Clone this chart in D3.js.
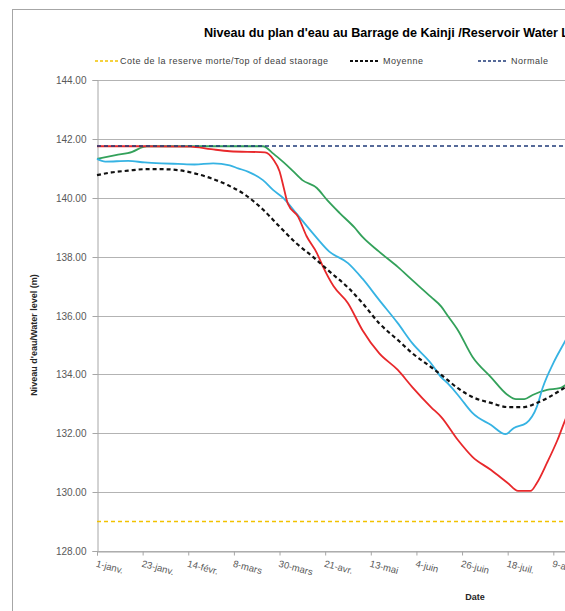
<!DOCTYPE html>
<html>
<head>
<meta charset="utf-8">
<script src="https://cdn.jsdelivr.net/npm/d3@7"></script>
<style>
  html, body { margin: 0; padding: 0; background: #fff; overflow: hidden; }
  svg { display: block; font-family: "Liberation Sans", Arial, sans-serif; }
</style>
</head>
<body>
<svg id="chart" width="565" height="611"></svg>
<script>
// ---- Data (day of year, 0 = 1 janv.) ----
const titleText = "Niveau du plan d'eau au Barrage de Kainji /Reservoir Water Level at Kainji Dam";
const yTicks = [128, 130, 132, 134, 136, 138, 140, 142, 144];
const xTickDays = [0, 22, 44, 66, 88, 110, 132, 154, 176, 198, 220, 242, 264, 286, 308, 330, 352];
const xTickLabels = ["1-janv.", "23-janv.", "14-févr.", "8-mars", "30-mars", "21-avr.", "13-mai", "4-juin", "26-juin", "18-juil.", "9-août", "31-août", "22-sept.", "14-oct.", "5-nov.", "27-nov.", "19-déc."];

const deadStorageLevel = 129.0;
const normalLevel = 141.76;

const moyenneDays   = [0, 7, 15, 23, 31, 39, 47, 55, 63, 71, 80, 88, 96, 104, 112, 121, 128, 136, 145, 152, 161, 166, 169, 174, 181, 190, 198, 206, 212, 218, 226, 232];
const moyenneLevels = [140.77, 140.86, 140.92, 140.97, 140.97, 140.94, 140.83, 140.66, 140.43, 140.12, 139.6, 139.02, 138.46, 138.0, 137.5, 136.95, 136.42, 135.74, 135.17, 134.72, 134.25, 133.98, 133.81, 133.53, 133.23, 133.03, 132.89, 132.89, 133.03, 133.23, 133.57, 133.8];

const redDays   = [0, 20, 45, 55, 64, 81, 85, 88, 90, 92, 97, 101, 106, 109, 114, 121, 128, 136, 145, 152, 161, 166, 174, 181, 190, 198, 203, 209, 212, 217, 222, 226, 232];
const redLevels = [141.75, 141.75, 141.74, 141.65, 141.58, 141.54, 141.3, 140.9, 140.35, 139.8, 139.35, 138.7, 138.12, 137.65, 137.0, 136.42, 135.5, 134.72, 134.15, 133.57, 132.89, 132.55, 131.77, 131.2, 130.75, 130.31, 130.04, 130.04, 130.3, 131.0, 131.77, 132.5, 133.4];

const greenDays   = [0, 9, 17, 22, 24, 80, 85, 90, 94, 99, 106, 111, 117, 124, 128, 136, 145, 152, 161, 166, 169, 174, 181, 190, 198, 202, 206, 210, 217, 223, 226, 232];
const greenLevels = [141.32, 141.45, 141.56, 141.72, 141.75, 141.75, 141.5, 141.2, 140.94, 140.6, 140.33, 139.92, 139.48, 139.0, 138.67, 138.17, 137.65, 137.2, 136.63, 136.3, 136.0, 135.5, 134.6, 133.9, 133.3, 133.16, 133.16, 133.3, 133.47, 133.53, 133.64, 133.9];

const cyanDays   = [0, 4, 15, 23, 31, 39, 47, 56, 64, 68, 73, 80, 85, 90, 96, 104, 112, 121, 128, 136, 145, 152, 161, 166, 169, 174, 177, 181, 190, 197, 201, 207, 212, 215, 220, 226, 232];
const cyanLevels = [141.32, 141.23, 141.25, 141.2, 141.17, 141.15, 141.13, 141.17, 141.1, 141.0, 140.88, 140.6, 140.26, 139.98, 139.48, 138.8, 138.17, 137.78, 137.25, 136.53, 135.74, 135.06, 134.38, 133.9, 133.7, 133.3, 133.03, 132.69, 132.28, 131.97, 132.18, 132.35, 132.89, 133.57, 134.38, 135.17, 136.0];

const legendLabels = ["Cote de la reserve morte/Top of dead staorage", "Moyenne", "Normale"];

// ---- Layout ----
const svg = d3.select("#chart");
const plot = { left: 97, right: 852, top: 80, bottom: 551 };

const x = d3.scaleLinear().domain([0, 364]).range([plot.left, plot.right]);
const y = d3.scaleLinear().domain([128, 144]).range([plot.bottom, plot.top]);

// outer chart border
svg.append("rect").attr("x", 12.5).attr("y", 9.5).attr("width", 900).attr("height", 700)
  .attr("fill", "#fff").attr("stroke", "#a6a6a6").attr("stroke-width", 1);

// gridlines
svg.append("g").selectAll("line").data(yTicks).join("line")
  .attr("x1", plot.left).attr("x2", plot.right)
  .attr("y1", d => Math.round(y(d)) + 0.5).attr("y2", d => Math.round(y(d)) + 0.5)
  .attr("stroke", "#b3b3b3").attr("stroke-width", 1);

// y axis
const yAxis = svg.append("g").attr("transform", `translate(${plot.left + 0.5},0)`)
  .call(d3.axisLeft(y).tickValues(yTicks).tickFormat(d3.format(".2f")).tickSize(5).tickPadding(6));
yAxis.select(".domain").attr("stroke", "#a6a6a6");
yAxis.selectAll(".tick line").attr("stroke", "#a6a6a6");
yAxis.selectAll(".tick text").attr("fill", "#595959").attr("font-size", "10px")
  .attr("font-family", "'Liberation Sans', Arial, sans-serif");
yAxis.selectAll(".tick").attr("transform", d => `translate(0,${Math.round(y(d)) + 0.5})`);

// x axis
const xAxis = svg.append("g").attr("transform", `translate(0,${Math.round(y(128)) + 0.5})`)
  .call(d3.axisBottom(x).tickValues(xTickDays).tickFormat((d, i) => xTickLabels[i]).tickSize(4));
xAxis.select(".domain").attr("stroke", "#a6a6a6");
xAxis.selectAll(".tick line").attr("stroke", "#a6a6a6");
xAxis.selectAll(".tick text")
  .attr("fill", "#595959").attr("font-size", "9.5px")
  .attr("font-family", "'Liberation Sans', Arial, sans-serif")
  .attr("text-anchor", "start").attr("dy", null)
  .attr("x", 2).attr("y", 15)
  .attr("transform", "rotate(15)");

// series
const line = d3.line().x(d => x(d[0])).y(d => y(d[1])).curve(d3.curveMonotoneX);
const zipS = (ds, vs) => ds.map((d, i) => [d, vs[i]]);

// dead storage
svg.append("line").attr("x1", plot.left).attr("x2", plot.right)
  .attr("y1", y(deadStorageLevel)).attr("y2", y(deadStorageLevel))
  .attr("stroke", "#f2c200").attr("stroke-width", 1.6).attr("stroke-dasharray", "4,3");

const solid = [
  { d: greenDays, v: greenLevels, c: "#33a15a" },
  { d: cyanDays, v: cyanLevels, c: "#36b3e3" },
  { d: redDays, v: redLevels, c: "#e8282b" }
];
solid.forEach(s => {
  svg.append("path").datum(zipS(s.d, s.v)).attr("d", line)
    .attr("fill", "none").attr("stroke", s.c).attr("stroke-width", 1.8)
    .attr("stroke-linejoin", "round");
});

// moyenne
svg.append("path").datum(zipS(moyenneDays, moyenneLevels)).attr("d", line)
  .attr("fill", "none").attr("stroke", "#111").attr("stroke-width", 2.2)
  .attr("stroke-dasharray", "4,3");

// normale
svg.append("line").attr("x1", plot.left).attr("x2", plot.right)
  .attr("y1", y(normalLevel)).attr("y2", y(normalLevel))
  .attr("stroke", "#1f3a78").attr("stroke-width", 1.5).attr("stroke-dasharray", "4,3");

// title
svg.append("text").attr("x", 204).attr("y", 37).text(titleText)
  .attr("font-size", "12.6px").attr("font-weight", "bold").attr("fill", "#000");

// legend
const legendItems = [
  { x1: 95, x2: 118, tx: 120, c: "#f2c200", w: 1.5, label: legendLabels[0] },
  { x1: 350, x2: 380, tx: 383, c: "#111", w: 2, label: legendLabels[1] },
  { x1: 478, x2: 508, tx: 511, c: "#1f3a78", w: 1.5, label: legendLabels[2] }
];
const lg = svg.append("g");
legendItems.forEach(it => {
  lg.append("line").attr("x1", it.x1).attr("x2", it.x2).attr("y1", 61).attr("y2", 61)
    .attr("stroke", it.c).attr("stroke-width", it.w).attr("stroke-dasharray", "3,2");
  lg.append("text").attr("x", it.tx).attr("y", 64).text(it.label)
    .attr("font-size", "9px").attr("letter-spacing", "0.5px").attr("fill", "#404040");
});

// axis titles
svg.append("text").attr("transform", "translate(37,335) rotate(-90)")
  .attr("text-anchor", "middle").attr("font-size", "9px").attr("font-weight", "bold")
  .attr("fill", "#262626").text("Niveau d'eau/Water level (m)");
svg.append("text").attr("x", 475).attr("y", 600).attr("text-anchor", "middle")
  .attr("font-size", "9px").attr("font-weight", "bold").attr("fill", "#262626").text("Date");
</script>
</body>
</html>
